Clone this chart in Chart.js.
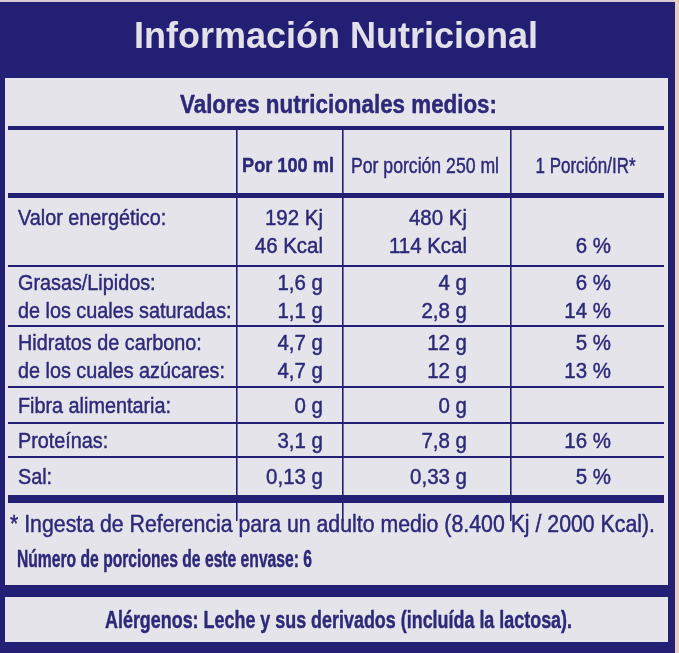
<!DOCTYPE html>
<html>
<head>
<meta charset="utf-8">
<title>Información Nutricional</title>
<script src="https://cdn.jsdelivr.net/npm/chart.js@4.4.1/dist/chart.umd.min.js"></script>
<style>
  html, body { margin: 0; padding: 0; background: #221f74; }
  canvas { display: block; }
</style>
</head>
<body>
<canvas id="nutritionChart" width="679" height="653"></canvas>
<script>
const titleText = 'Información Nutricional';
const subtitleText = 'Valores nutricionales medios:';
const columnHeads = ['Por 100 ml', 'Por porción 250 ml', '1 Porción/IR*'];
const rowLabels = [
  ['Valor energético:', ''],
  ['Grasas/Lipidos:', 'de los cuales saturadas:'],
  ['Hidratos de carbono:', 'de los cuales azúcares:'],
  ['Fibra alimentaria:'],
  ['Proteínas:'],
  ['Sal:'],
];
const per100ml = [['192 Kj', '46 Kcal'], ['1,6 g', '1,1 g'], ['4,7 g', '4,7 g'], ['0 g'], ['3,1 g'], ['0,13 g']];
const perPortion = [['480 Kj', '114 Kcal'], ['4 g', '2,8 g'], ['12 g', '12 g'], ['0 g'], ['7,8 g'], ['0,33 g']];
const portionIR = [['', '6 %'], ['6 %', '14 %'], ['5 %', '13 %'], [''], ['16 %'], ['5 %']];
const footnoteText = '* Ingesta de Referencia para un adulto medio (8.400 Kj / 2000 Kcal).';
const servingsText = 'Número de porciones de este envase: 6';
const allergensText = 'Alérgenos: Leche y sus derivados (incluída la lactosa).';

// ---- layout / style ----
const NAVY = '#221f74';
const INK = '#2c2979';
const PANEL = '#e5e4ea';
const FONT = '"Liberation Sans", Arial, sans-serif';

const colWidths = [229, 106, 168, 153];          // x units of the table
const rowSpans = [2.4, 2.55, 2.15, 2.15, 1.3, 1.22, 1.5]; // header + rows, in text lines
const stubSpan = 0.79;                            // dividers run on below the last rule
const headFit = [92, 148, 100];
const valuePad = [20, 44, 53];

const colEdges = colWidths.reduce((acc, w) => acc.concat(acc[acc.length - 1] + w), [0]);
const rowEdges = rowSpans.reduce((acc, h) => acc.concat(acc[acc.length - 1] + h), [0]);
const tableWidth = colEdges[colEdges.length - 1];
const tableHeight = rowEdges[rowEdges.length - 1] + stubSpan;
const thickRules = { 0: 4, 1: 5, [rowEdges.length - 1]: 8 };

// one invisible point per text cell, placed through the chart scales
const cells = [];
columnHeads.forEach((text, c) => {
  cells.push({
    x: (colEdges[c + 1] + colEdges[c + 2]) / 2 - 2,
    y: rowSpans[0] * 0.55,
    text,
    kind: c === 0 ? 'headBold' : 'head',
    fit: headFit[c],
  });
});
const valueCols = [per100ml, perPortion, portionIR];
rowLabels.forEach((lines, r) => {
  const top = rowEdges[r + 1];
  const span = rowSpans[r + 1];
  // last row sits a touch higher above the heavy rule
  const nudge = r === rowLabels.length - 1 ? -0.07 : 0;
  lines.forEach((label, k) => {
    const y = top + span / 2 + (k - (lines.length - 1) / 2) + nudge;
    cells.push({ x: 10, y, text: label, kind: 'label' });
    valueCols.forEach((col, c) => {
      cells.push({ x: colEdges[c + 2] - valuePad[c], y, text: col[r][k], kind: 'value' });
    });
  });
});

const cellStyles = {
  label: { weight: 'normal', size: 22, align: 'left', sx: 0.9 },
  value: { weight: 'normal', size: 22, align: 'right', sx: 0.93 },
  headBold: { weight: 'bold', size: 21, align: 'center' },
  head: { weight: 'normal', size: 22, align: 'center' },
};

function drawText(ctx, text, x, baseline, st) {
  if (!text) return;
  ctx.save();
  ctx.font = `${st.weight} ${st.size}px ${FONT}`;
  ctx.fillStyle = st.color || INK;
  ctx.strokeStyle = st.color || INK;
  ctx.lineWidth = st.stroke !== undefined ? st.stroke : 0.45;
  ctx.lineJoin = 'round';
  ctx.textBaseline = 'alphabetic';
  let sx = st.sx || 1;
  if (st.fit) sx = st.fit / ctx.measureText(text).width;
  ctx.translate(x, baseline);
  ctx.scale(sx, 1);
  ctx.textAlign = st.align;
  ctx.fillText(text, 0, 0);
  if (ctx.lineWidth > 0) ctx.strokeText(text, 0, 0);
  ctx.restore();
}

const labelFrame = {
  id: 'labelFrame',
  beforeDraw(chart) {
    const { ctx, width, height } = chart;
    ctx.save();
    ctx.fillStyle = NAVY;
    ctx.fillRect(0, 0, width, height);
    ctx.fillStyle = '#d9c9d3';
    ctx.fillRect(0, 0, width, 2);
    ctx.fillStyle = '#e9cdbd';
    ctx.fillRect(width - 4, 0, 4, height);
    ctx.fillStyle = PANEL;
    ctx.fillRect(5, 78, 663, 507);
    ctx.fillRect(5, 597, 663, 45);
    ctx.restore();
  },
  afterDraw(chart) {
    const ctx = chart.ctx;
    drawText(ctx, subtitleText, 338.5, 113, { weight: 'bold', size: 25, align: 'center', fit: 317 });
    drawText(ctx, footnoteText, 10, 532, { weight: 'normal', size: 23, align: 'left', fit: 645 });
    drawText(ctx, servingsText, 17, 567, { weight: 'bold', size: 23, align: 'left', fit: 295 });
    drawText(ctx, allergensText, 338.5, 628, { weight: 'bold', size: 24, align: 'center', fit: 467 });
  },
};

const cellText = {
  id: 'cellText',
  afterDatasetsDraw(chart) {
    const meta = chart.getDatasetMeta(0);
    const data = chart.data.datasets[0].data;
    meta.data.forEach((pt, i) => {
      const cell = data[i];
      const st = Object.assign({}, cellStyles[cell.kind]);
      if (cell.fit) st.fit = cell.fit;
      drawText(chart.ctx, cell.text, pt.x, pt.y + st.size * 0.36, st);
    });
  },
};

new Chart(document.getElementById('nutritionChart'), {
  type: 'scatter',
  data: {
    datasets: [{
      data: cells,
      pointRadius: 0,
      pointHoverRadius: 0,
    }],
  },
  options: {
    responsive: false,
    animation: false,
    events: [],
    layout: {
      padding: { left: 8, right: 15, top: 0, bottom: 132 },
    },
    scales: {
      x: {
        type: 'linear',
        min: 0,
        max: tableWidth,
        afterBuildTicks: (scale) => {
          scale.ticks = colEdges.slice(1, -1).map((v) => ({ value: v }));
        },
        afterFit: (scale) => { scale.height = 0; },
        ticks: { display: false },
        border: { display: false },
        grid: { color: NAVY, lineWidth: 1.6, drawTicks: false },
      },
      y: {
        type: 'linear',
        reverse: true,
        min: 0,
        max: tableHeight,
        afterBuildTicks: (scale) => {
          scale.ticks = rowEdges.map((v) => ({ value: v }));
        },
        afterFit: (scale) => { scale.width = 0; },
        ticks: { display: false },
        border: { display: false },
        grid: {
          color: NAVY,
          lineWidth: (ctx) => thickRules[ctx.index] || 2,
          drawTicks: false,
        },
      },
    },
    plugins: {
      legend: { display: false },
      tooltip: { enabled: false },
      title: {
        display: true,
        text: titleText,
        color: '#e2e1ea',
        font: { family: FONT, size: 36, weight: 'bold' },
        padding: { top: 16, bottom: 68.8 },
      },
    },
  },
  plugins: [labelFrame, cellText],
});
</script>
</body>
</html>
